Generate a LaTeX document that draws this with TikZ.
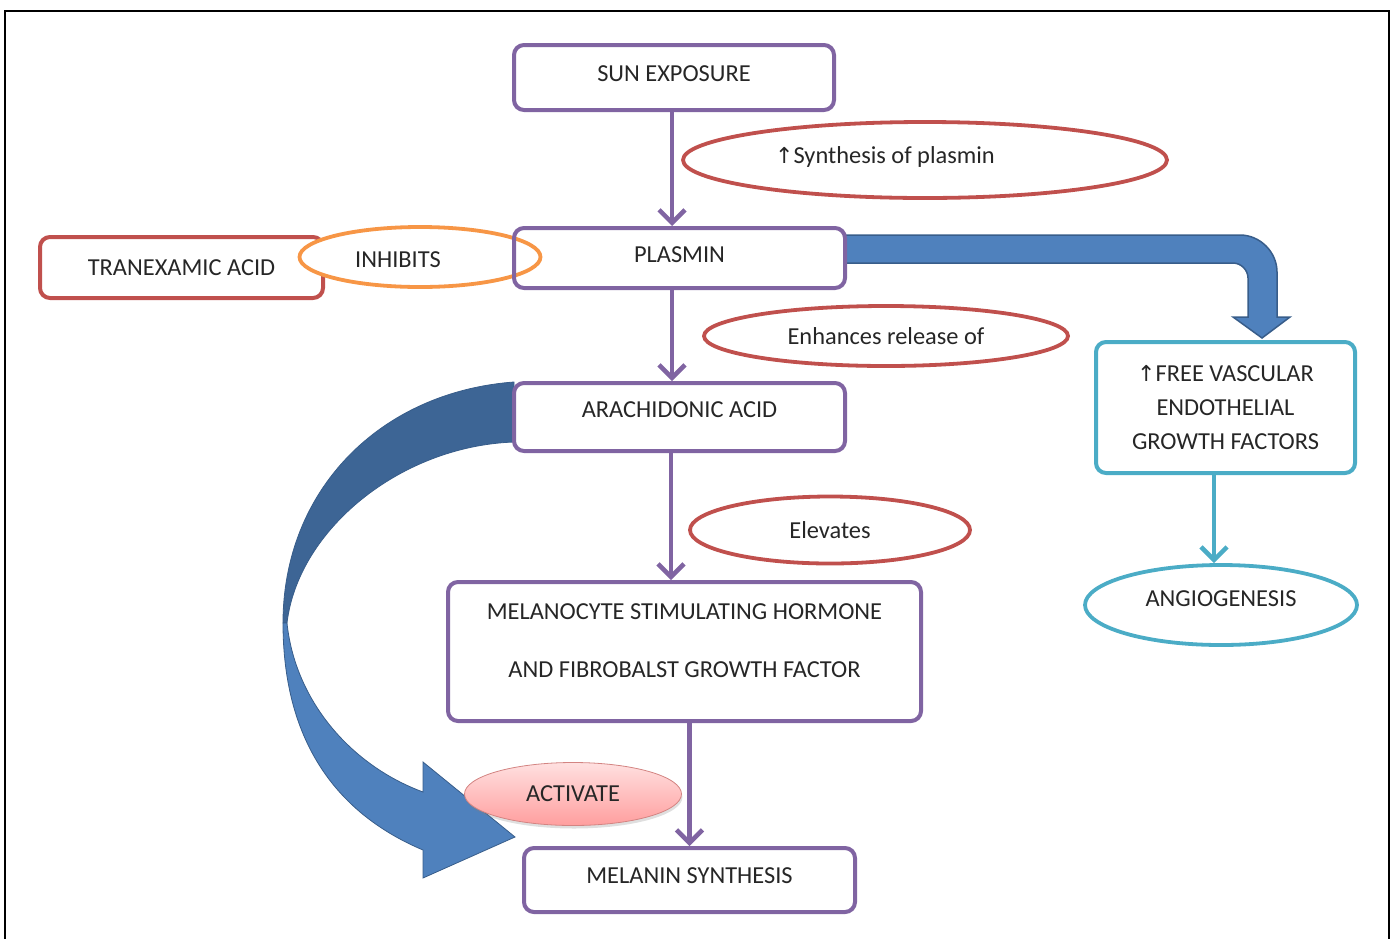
\documentclass[tikz,border=0pt]{standalone}
\usepackage{fontspec}
\setmainfont{Carlito}
\newfontfamily\arrowfont{DejaVu Sans}
\usetikzlibrary{arrows.meta,shapes.geometric,shadows}
\definecolor{flowpurple}{HTML}{8064A2}
\definecolor{flowred}{HTML}{C0504D}
\definecolor{floworange}{HTML}{F79646}
\definecolor{flowcyan}{HTML}{4BACC6}
\definecolor{flowblue}{HTML}{4F81BD}
\definecolor{flowdark}{HTML}{3D6595}
\definecolor{flowedge}{HTML}{385D8A}
\newcommand\upmark{{\arrowfont\fontsize{22}{24}\selectfont ↑}}
\begin{document}
\begin{tikzpicture}[x=1pt,y=-1pt,
	every node/.style={font=\fontsize{24.4}{28}\selectfont,text=black!85},
	pbox/.style={draw=flowpurple,line width=4pt,rounded corners=10pt,inner sep=0pt},
	rbox/.style={pbox,draw=flowred},
	cbox/.style={pbox,draw=flowcyan},
	rell/.style={ellipse,draw=flowred,line width=3.8pt,inner sep=0pt},
	oell/.style={rell,draw=floworange,fill=white},
	cell/.style={rell,draw=flowcyan},
	flow/.style={draw=flowpurple,line width=4.5pt,-{Straight Barb[length=13pt,width=26pt,line width=4.5pt]}},
	cflow/.style={flow,draw=flowcyan,line width=3.5pt}]
	\useasboundingbox (0,0) rectangle (1397,938);
	\draw[line width=2pt] (5,940) -- (5,11) -- (1389,11) -- (1389,940);
	% big curved arrow (back and front)
	\filldraw[fill=flowdark,draw=flowedge,line width=0.8pt] (514,382) .. controls (380,392) and (283,490) .. (283,623) -- (287,623) .. controls (298,530) and (400,446) .. (514,442) -- cycle;
	\filldraw[fill=flowblue,draw=flowedge,line width=0.8pt] (287,623) .. controls (295,700) and (350,765) .. (423,792) -- (423,762) -- (515,837) -- (423,878) -- (423,850) .. controls (340,815) and (283,745) .. (283,623) -- cycle;
	% block arrow to growth factors
	\filldraw[fill=flowblue,draw=flowedge,line width=1.5pt] (845,235) -- (1240,235) .. controls (1260,235) and (1277,252) .. (1277,272) -- (1277,317) -- (1290,317) -- (1262,338) -- (1233,317) -- (1248,317) -- (1248,278) .. controls (1248,270) and (1241,263) .. (1233,263) -- (845,263) -- cycle;
	% boxes
	\node[pbox,text depth=8pt,minimum width=320pt,minimum height=65pt] (sun) at (674,77.5) {SUN EXPOSURE};
	\node[rbox,minimum width=283pt,minimum height=61pt] (tranex) at (181.5,267.5) {TRANEXAMIC ACID};
	\node[oell,minimum width=241pt,minimum height=60pt,label={[xshift=-22pt,yshift=-3pt]center:INHIBITS}] (inhib) at (420,257) {};
	\node[pbox,text depth=6pt,minimum width=331pt,minimum height=60pt] (plasmin) at (679.5,258) {PLASMIN};
	\node[pbox,minimum width=331pt,minimum height=68pt,label={[yshift=7pt]center:ARACHIDONIC ACID}] (arach) at (679.5,417) {};
	\node[pbox,minimum width=473pt,minimum height=139pt,label={[yshift=11pt,align=center]center:MELANOCYTE STIMULATING HORMONE\\[30pt]AND FIBROBALST GROWTH FACTOR}] (msh) at (684.5,651.5) {};
	\node[pbox,text depth=8pt,minimum width=331pt,minimum height=64pt] (melanin) at (689.5,880) {MELANIN SYNTHESIS};
	\node[cbox,minimum width=259pt,minimum height=131pt,align=center] (vegf) at (1225.5,407.5) {\upmark FREE VASCULAR\\[6pt]ENDOTHELIAL\\[6pt]GROWTH FACTORS};
	% ovals
	\node[rell,minimum width=484pt,minimum height=76pt,label={[xshift=-40pt,yshift=3pt]center:\upmark Synthesis of plasmin}] (synth) at (925,160) {};
	\node[rell,minimum width=364pt,minimum height=60pt] (enh) at (886,336) {Enhances release of};
	\node[rell,minimum width=280pt,minimum height=67pt] (elev) at (830,530) {Elevates};
	\node[cell,minimum width=272pt,minimum height=80pt,label={[yshift=6pt]center:ANGIOGENESIS}] (angio) at (1221,605) {};
	\node[ellipse,draw=flowred!70,line width=0.8pt,top color=red!12,bottom color=red!38,drop shadow={opacity=0.25,shadow xshift=1pt,shadow yshift=-3pt},minimum width=217pt,minimum height=63pt,inner sep=0pt] (activ) at (573,794) {ACTIVATE};
	% connectors
	\draw[flow] (sun.south -| 672,0) -- (672,0 |- plasmin.north);
	\draw[flow] (plasmin.south -| 672,0) -- (672,0 |- arach.north);
	\draw[flow] (arach.south -| 671,0) -- (671,0 |- msh.north);
	\draw[flow] (melanin.north |- msh.south) -- (melanin.north);
	\draw[cflow] (1214,0 |- vegf.south) -- (1214,0 |- angio.north);
\end{tikzpicture}
\end{document}
